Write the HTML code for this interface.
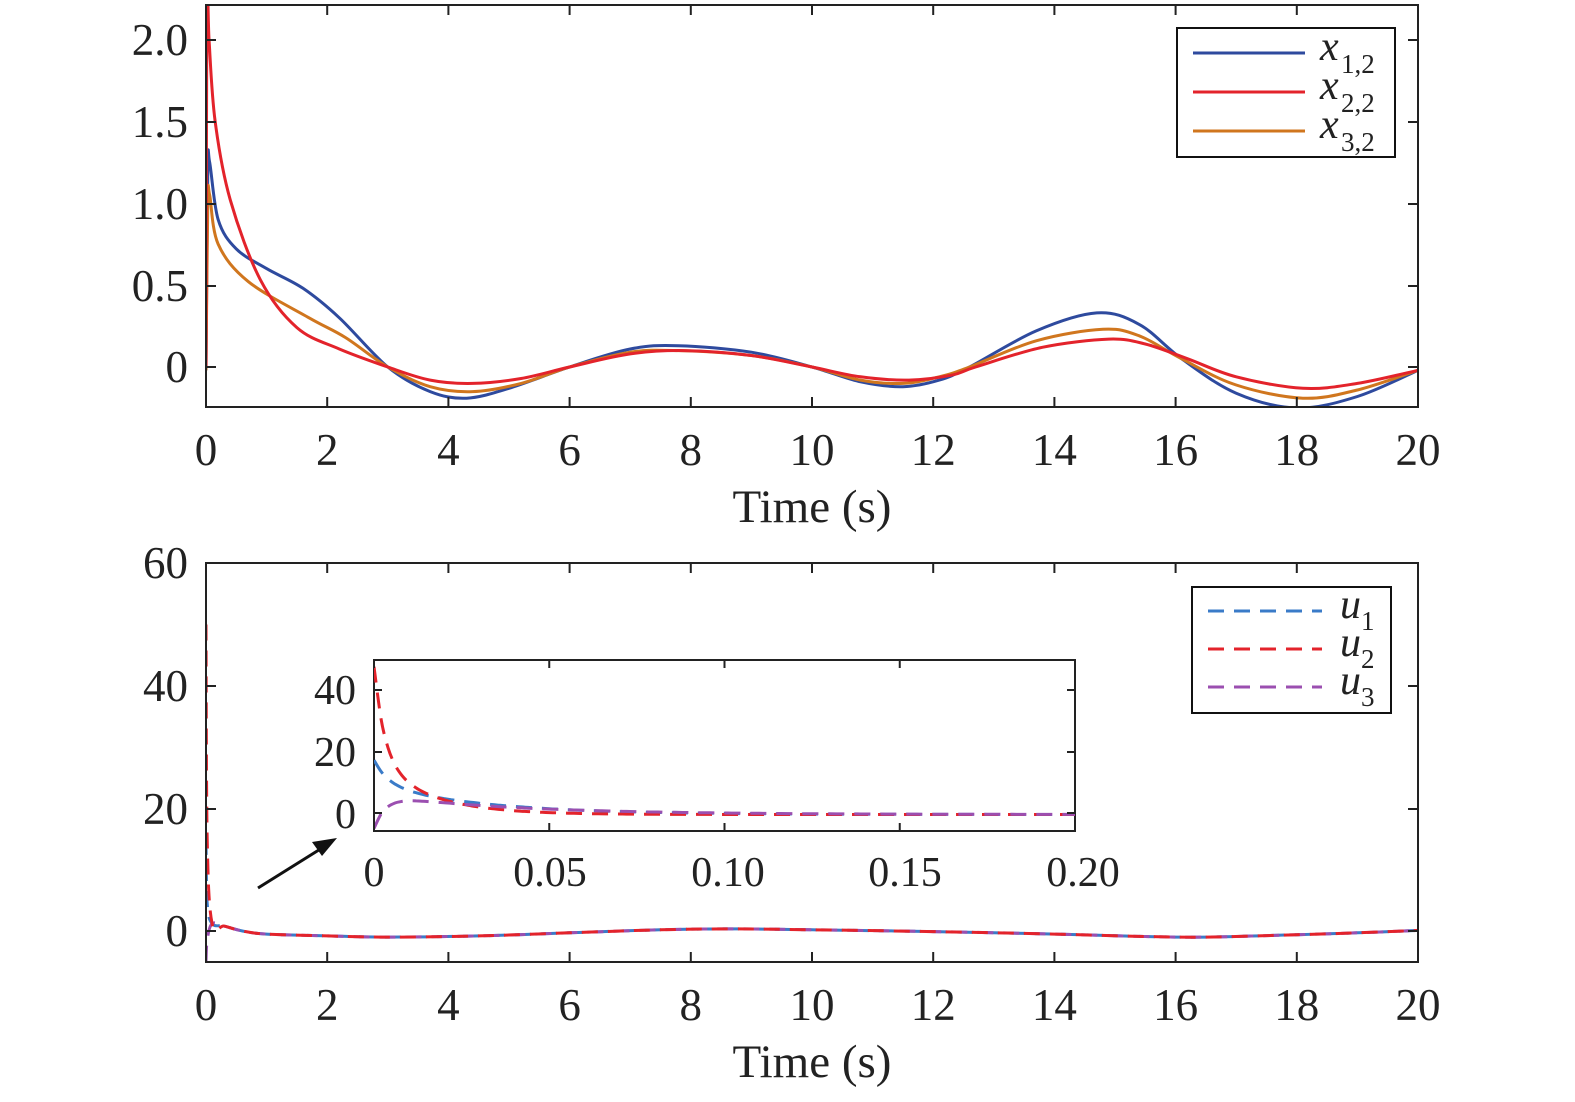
<!DOCTYPE html>
<html><head><meta charset="utf-8"><style>
html,body{margin:0;padding:0;background:#fff}
svg{display:block}
text{font-family:"Liberation Serif",serif;fill:#222}
</style></head><body>
<svg id="s" width="1575" height="1102" viewBox="0 0 1575 1102" xmlns="http://www.w3.org/2000/svg">
<defs>
<clipPath id="c1"><rect x="206" y="5" width="1212" height="402"/></clipPath>
<clipPath id="c2"><rect x="206" y="563" width="1212" height="399"/></clipPath>
<clipPath id="c3"><rect x="374" y="660" width="701" height="171"/></clipPath>
</defs>
<g id="g1" clip-path="url(#c1)"></g>
<g id="g2" clip-path="url(#c2)"></g>
<rect x="374" y="660" width="701" height="171" fill="#fff" stroke="#222" stroke-width="2"/>
<g id="g3" clip-path="url(#c3)"></g>
<rect x="206" y="5" width="1212" height="402" fill="none" stroke="#222" stroke-width="2"/>
<rect x="206" y="563" width="1212" height="399" fill="none" stroke="#222" stroke-width="2"/>
<g id="ticks" stroke="#222" stroke-width="2"></g>
<g font-size="45" text-anchor="end">
<text x="188" y="55">2.0</text><text x="188" y="137">1.5</text><text x="188" y="219">1.0</text><text x="188" y="301">0.5</text><text x="188" y="382">0</text>
<text x="188" y="578">60</text><text x="188" y="701">40</text><text x="188" y="824">20</text><text x="188" y="946">0</text>
</g>
<g font-size="45" text-anchor="middle" id="xl"></g>
<text x="812" y="522" font-size="47" text-anchor="middle">Time (s)</text>
<text x="812" y="1077" font-size="47" text-anchor="middle">Time (s)</text>
<g font-size="42" text-anchor="end">
<text x="356" y="704">40</text><text x="356" y="766">20</text><text x="356" y="828">0</text>
</g>
<g font-size="42" text-anchor="middle">
<text x="374" y="886">0</text><text x="550" y="886">0.05</text><text x="728" y="886">0.10</text><text x="905" y="886">0.15</text><text x="1083" y="886">0.20</text>
</g>
<line x1="258" y1="888" x2="322" y2="848" stroke="#111" stroke-width="3"/>
<polygon points="337,838 312,842 322,856" fill="#111"/>
<rect x="1177" y="28" width="218" height="129" fill="#fff" stroke="#111" stroke-width="2"/>
<line x1="1193" y1="53" x2="1305" y2="53" stroke="#2e4a9e" stroke-width="3"/>
<line x1="1193" y1="92" x2="1305" y2="92" stroke="#e3232b" stroke-width="3"/>
<line x1="1193" y1="131" x2="1305" y2="131" stroke="#d0761e" stroke-width="3"/>
<g font-size="42" font-style="italic"><text x="1320" y="60">x</text><text x="1320" y="99">x</text><text x="1320" y="138">x</text></g>
<g font-size="27"><text x="1341" y="73">1,2</text><text x="1341" y="112">2,2</text><text x="1341" y="151">3,2</text></g>
<rect x="1192" y="587" width="199" height="126" fill="#fff" stroke="#111" stroke-width="2"/>
<line x1="1208" y1="611" x2="1322" y2="611" stroke="#3a7bc8" stroke-width="3" stroke-dasharray="16,10"/>
<line x1="1208" y1="649" x2="1322" y2="649" stroke="#e3232b" stroke-width="3" stroke-dasharray="16,10"/>
<line x1="1208" y1="687" x2="1322" y2="687" stroke="#9b4fb0" stroke-width="3" stroke-dasharray="16,10"/>
<g font-size="42" font-style="italic"><text x="1340" y="618">u</text><text x="1340" y="656">u</text><text x="1340" y="694">u</text></g>
<g font-size="27"><text x="1361" y="630">1</text><text x="1361" y="668">2</text><text x="1361" y="706">3</text></g>
</svg>
<script>
var NS="http://www.w3.org/2000/svg";
function el(p,t,a){var e=document.createElementNS(NS,t);for(var k in a)e.setAttribute(k,a[k]);p.appendChild(e);return e;}
function cr(pts){var d="M"+pts[0][0].toFixed(1)+","+pts[0][1].toFixed(1);
for(var i=0;i<pts.length-1;i++){var p0=pts[Math.max(0,i-1)],p1=pts[i],p2=pts[i+1],p3=pts[Math.min(pts.length-1,i+2)];
var c1=[p1[0]+(p2[0]-p0[0])/6,p1[1]+(p2[1]-p0[1])/6],c2=[p2[0]-(p3[0]-p1[0])/6,p2[1]-(p3[1]-p1[1])/6];
d+=" C"+c1[0].toFixed(1)+","+c1[1].toFixed(1)+" "+c2[0].toFixed(1)+","+c2[1].toFixed(1)+" "+p2[0].toFixed(1)+","+p2[1].toFixed(1);}return d;}
function X(t){return 206+t*60.6;} function Y1(v){return 367-v*164;} function Y2(v){return 931-v*6.13;}
function IX(t){return 374+t*3505;} function IY(v){return 813-v*3.08;}
var g1=document.getElementById("g1"),g2=document.getElementById("g2"),g3=document.getElementById("g3");
function line(g,data,fx,fy,col,dash){var p=data.map(function(q){return[fx(q[0]),fy(q[1])];});
var a={d:cr(p),fill:"none",stroke:col,"stroke-width":3};if(dash)a["stroke-dasharray"]=dash;el(g,"path",a);}
var blue=[[0,-0.02],[0.03,1.2],[0.06,1.25],[0.2,0.9],[0.5,0.72],[1,0.6],[1.6,0.48],[2.2,0.3],[3,0],[3.7,-0.15],[4.3,-0.19],[5,-0.13],[6,0],[7,0.11],[7.8,0.13],[9,0.09],[10,0],[10.8,-0.09],[11.5,-0.12],[12.1,-0.08],[12.6,0],[13.7,0.22],[14.7,0.33],[15.4,0.26],[16.1,0.05],[17,-0.16],[18,-0.25],[19,-0.18],[20,-0.02]];
var red=[[0,0],[0.015,2.3],[0.05,2.0],[0.15,1.5],[0.4,1.02],[0.9,0.53],[1.5,0.24],[2.2,0.11],[3,0],[3.7,-0.08],[4.4,-0.1],[5.2,-0.07],[6,0],[7,0.08],[7.9,0.1],[9,0.07],[10,0],[10.8,-0.06],[11.6,-0.08],[12.3,-0.05],[12.7,0],[13.8,0.12],[14.9,0.17],[15.5,0.14],[16.2,0.05],[17,-0.06],[18.1,-0.13],[19,-0.1],[20,-0.02]];
var orn=[[0,-0.02],[0.03,1.0],[0.06,1.05],[0.2,0.75],[0.7,0.52],[1.7,0.3],[2.3,0.18],[3,0],[3.7,-0.12],[4.4,-0.15],[5.2,-0.1],[6,0],[7,0.09],[7.8,0.1],[9,0.07],[10,0],[10.8,-0.08],[11.5,-0.1],[12.1,-0.06],[12.6,0],[13.7,0.16],[14.8,0.23],[15.4,0.19],[16.1,0.05],[17,-0.11],[18.1,-0.19],[19,-0.14],[20,-0.02]];
line(g1,blue,X,Y1,"#2e4a9e");line(g1,orn,X,Y1,"#d0761e");line(g1,red,X,Y1,"#e3232b");
var bk=[[1,-0.5],[2,-0.8],[3,-1],[4.5,-0.8],[6,-0.3],[7.5,0.2],[8.7,0.35],[10,0.2],[12,-0.1],[14,-0.5],[15.5,-0.9],[16.5,-1],[18,-0.6],[19,-0.3],[20,0.1]];
function mk(s0){var a=[[0,s0],[0.02,s0*0.3],[0.1,1.2],[0.3,0.8],[0.6,0]];return a.concat(bk);}
line(g2,mk(15),X,Y2,"#3a7bc8","16,10");line(g2,mk(-5),X,Y2,"#9b4fb0","16,10");line(g2,mk(50),X,Y2,"#e3232b","16,10");
function ins(f){var a=[];for(var t=0;t<=0.2001;t+=0.002)a.push([t,f(t)]);return a;}
line(g3,ins(function(t){return 17*Math.exp(-t/0.004)*0.45+9.5*Math.exp(-t/0.03)-0.5*(1-Math.exp(-t/0.03));}),IX,IY,"#3a7bc8","16,10");
line(g3,ins(function(t){return 30*Math.exp(-t/0.003)+18*Math.exp(-t/0.015)-0.5;}),IX,IY,"#e3232b","16,10");
line(g3,ins(function(t){return -5*Math.exp(-t/0.003)+5.5*Math.exp(-t/0.04)*(1-Math.exp(-t/0.004))*1.1-0.5*(1-Math.exp(-t/0.02));}),IX,IY,"#9b4fb0","16,10");
var tk=document.getElementById("ticks"),xl=document.getElementById("xl");
for(var i=0;i<=10;i++){var x=206+i*121.2;
[[5,407],[563,962]].forEach(function(b){el(tk,"line",{x1:x,y1:b[1],x2:x,y2:b[1]-10});el(tk,"line",{x1:x,y1:b[0],x2:x,y2:b[0]+10});});
var t1=el(xl,"text",{x:x,y:465});t1.textContent=i*2;var t2=el(xl,"text",{x:x,y:1020});t2.textContent=i*2;}
[40,122,204,286,367,563,686,809,931].forEach(function(y){el(tk,"line",{x1:206,y1:y,x2:216,y2:y});el(tk,"line",{x1:1418,y1:y,x2:1408,y2:y});});
[690,752,813].forEach(function(y){el(tk,"line",{x1:374,y1:y,x2:382,y2:y});el(tk,"line",{x1:1075,y1:y,x2:1067,y2:y});});
for(var j=0;j<=4;j++){var x=374+j*175.25;el(tk,"line",{x1:x,y1:831,x2:x,y2:823});el(tk,"line",{x1:x,y1:660,x2:x,y2:668});}
</script>
</body></html>
